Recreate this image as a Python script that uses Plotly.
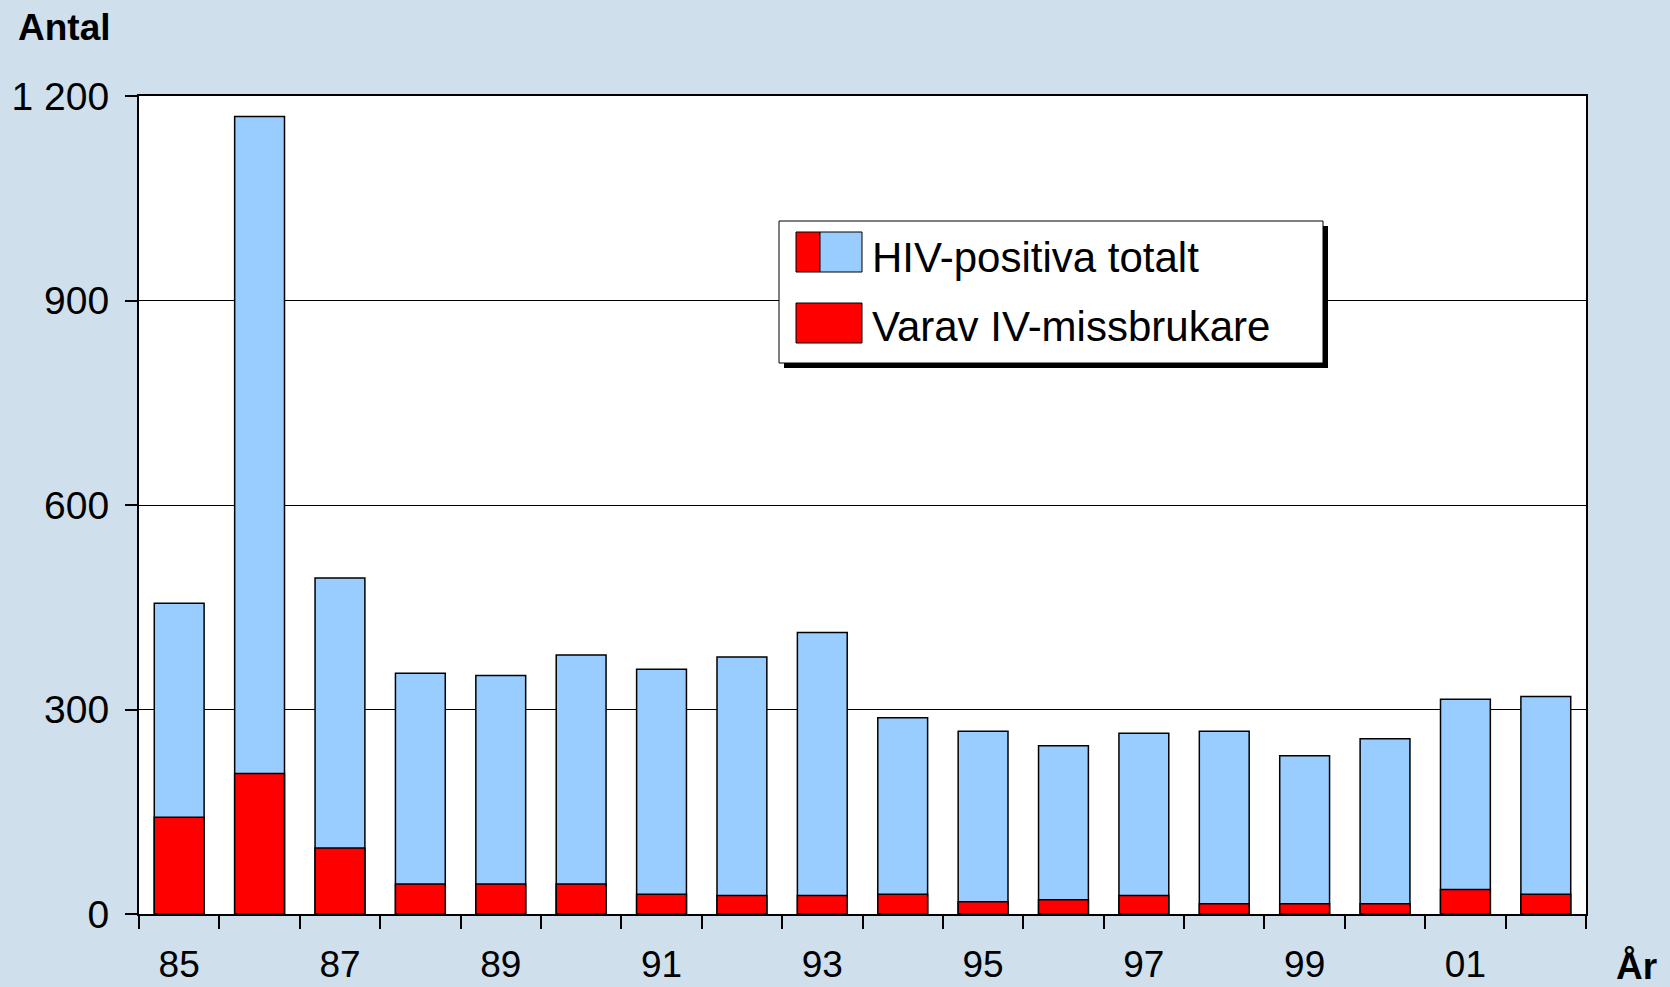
import plotly.graph_objects as go

# Data
years = ["85", "86", "87", "88", "89", "90", "91", "92", "93",
         "94", "95", "96", "97", "98", "99", "00", "01", "02"]
hiv_total = [456, 1170, 493, 353, 350, 380, 359, 377, 413,
             288, 268, 247, 265, 268, 232, 257, 315, 319]
iv_users = [142, 206, 97, 44, 44, 44, 29, 27, 27,
            29, 18, 21, 27, 15, 15, 15, 36, 29]
tick_labels = ["85", "", "87", "", "89", "", "91", "", "93",
               "", "95", "", "97", "", "99", "", "01", ""]

BG = "#CFDFEB"
BLUE = "#99CCFF"
RED = "#FF0000"
FONT = "Arial, Liberation Sans, sans-serif"

W, H = 1670, 987
L, R, T, B = 139, 84, 96, 73
PW, PH = W - L - R, H - T - B


def px(x, y):
    # pixel position -> paper coordinates
    return (x - L) / PW, (H - B - y) / PH


fig = go.Figure()

fig.add_trace(go.Bar(
    x=years, y=hiv_total, name="HIV-positiva totalt",
    marker=dict(color=BLUE, line=dict(color="black", width=1.5)),
    showlegend=False
))
fig.add_trace(go.Bar(
    x=years, y=iv_users, name="Varav IV-missbrukare",
    marker=dict(color=RED, line=dict(color="black", width=1.5)),
    showlegend=False
))

# hand made legend (the first swatch is split red / blue)
shapes = []
x0, y0 = px(784, 226)
x1, y1 = px(1328, 368)
shapes.append(dict(type="rect", xref="paper", yref="paper", x0=x0, y0=y0, x1=x1, y1=y1,
                   fillcolor="black", line=dict(width=0)))
x0, y0 = px(779, 221)
x1, y1 = px(1323, 363)
shapes.append(dict(type="rect", xref="paper", yref="paper", x0=x0, y0=y0, x1=x1, y1=y1,
                   fillcolor="white", line=dict(color="black", width=1)))
for (a, b, c, d, col) in [(796, 232, 820, 272, RED), (820, 232, 862, 272, BLUE),
                          (796, 303, 862, 343, RED)]:
    x0, y0 = px(a, b)
    x1, y1 = px(c, d)
    shapes.append(dict(type="rect", xref="paper", yref="paper", x0=x0, y0=y0, x1=x1, y1=y1,
                       fillcolor=col, line=dict(color="black", width=1)))

annotations = []
for label, yy in [("HIV-positiva totalt", 257), ("Varav IV-missbrukare", 326)]:
    ax, ay = px(870, yy)
    annotations.append(dict(text=label, xref="paper", yref="paper", x=ax, y=ay,
                            xanchor="left", yanchor="middle", showarrow=False,
                            font=dict(family=FONT, size=42, color="black")))

ax, ay = px(16, 28)
annotations.append(dict(text="<b>Antal</b>", xref="paper", yref="paper", x=ax, y=ay,
                        xanchor="left", yanchor="middle", showarrow=False,
                        font=dict(family=FONT, size=37, color="black")))
ax, ay = px(1614, 966)
annotations.append(dict(text="<b>År</b>", xref="paper", yref="paper", x=ax, y=ay,
                        xanchor="left", yanchor="middle", showarrow=False,
                        font=dict(family=FONT, size=37, color="black")))

fig.update_layout(
    width=W, height=H,
    margin=dict(l=L, r=R, t=T, b=B, pad=0),
    paper_bgcolor=BG, plot_bgcolor="white",
    barmode="overlay", bargap=0.38,
    separators=", ",
    font=dict(family=FONT, size=36, color="black"),
    shapes=shapes, annotations=annotations,
    xaxis=dict(
        type="category", tickvals=years, ticktext=tick_labels,
        ticks="outside", tickson="boundaries", ticklen=13, tickwidth=1.5,
        tickcolor="black", showline=True, linecolor="black", linewidth=2,
        mirror=True, showgrid=False, ticklabelstandoff=17, automargin=False,
        tickfont=dict(family=FONT, size=37, color="black")
    ),
    yaxis=dict(
        range=[0, 1200], tickvals=[0, 300, 600, 900, 1200], tickformat=",d",
        ticks="outside", ticklen=12, tickwidth=1.5, tickcolor="black",
        showline=True, linecolor="black", linewidth=2, mirror=True,
        showgrid=True, gridcolor="black", gridwidth=1, zeroline=False,
        ticklabelstandoff=8, automargin=False,
        tickfont=dict(family=FONT, size=39, color="black")
    )
)

fig.write_html("out.html", config={"displayModeBar": False},
               post_script="document.body.style.margin='0';")
